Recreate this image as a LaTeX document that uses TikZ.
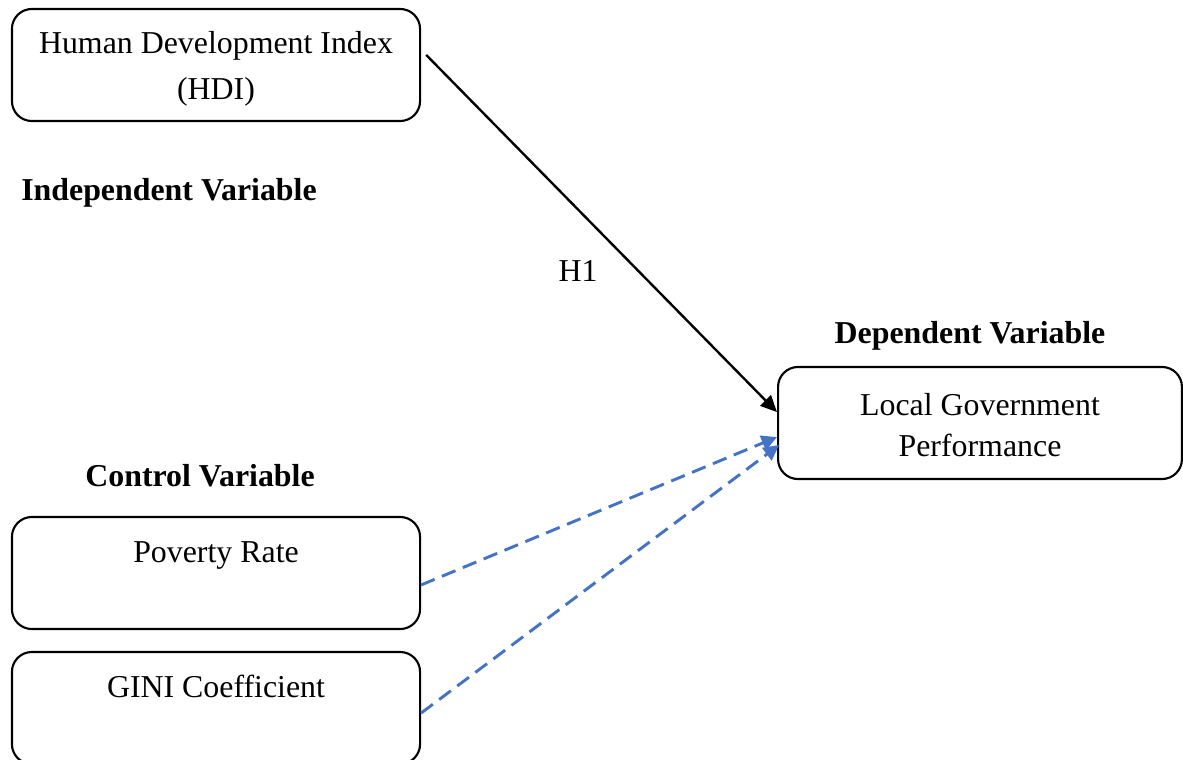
\documentclass[tikz,border=0pt]{standalone}
\usepackage{fontspec}
\setmainfont{Liberation Serif}
\usetikzlibrary{arrows.meta}
\definecolor{wordblue}{HTML}{4472C4}

\tikzstyle{varbox} = [draw, rounded corners=7.5pt, line width=0.8pt, inner sep=0pt, minimum width=153.7pt, minimum height=42.2pt]
\tikzstyle{boxtext} = [align=center, inner sep=0pt, font=\fontsize{12}{17.3}\selectfont]
\tikzstyle{heading} = [font=\fontsize{12}{14}\selectfont\bfseries]
\tikzstyle{arrow} = [line width=0.9pt, -{Triangle[length=6.2pt,width=5.6pt]}]
\tikzstyle{control} = [wordblue, line width=1.1pt, dash pattern=on 5.5pt off 3pt, -{Triangle[length=5.8pt,width=5.8pt]}]

\begin{document}
\begin{tikzpicture}[x=0.3766pt, y=-0.3766pt]
\useasboundingbox (0,0) rectangle (1183,760);

\node (hdi) [varbox] at (216,65) {};
\node (lgp) [varbox, minimum width=152.1pt] at (980,423) {};
\node (pov) [varbox] at (216,573) {};
\node (gini) [varbox] at (216,708) {};

\node (hditext) [boxtext, yshift=-1.5pt] at (hdi) {Human Development Index\\(HDI)};
\node (lgptext) [boxtext, yshift=-0.75pt, font=\fontsize{12}{15.4}\selectfont] at (lgp) {Local Government\\Performance};
\node (povtext) [boxtext, yshift=-0.75pt] at (pov) {Poverty Rate\\\mbox{}};
\node (ginitext) [boxtext, yshift=-0.4pt] at (gini) {GINI Coefficient\\\mbox{}};

\node (indep) [heading] at (169,193) {Independent Variable};
\node (dep) [heading] at (970,336) {Dependent Variable};
\node (ctrl) [heading] at (200,476) {Control Variable};
\node (h1) [font=\fontsize{12}{14}\selectfont] at (578,271) {H1};

\draw [arrow] ([xshift=1.9pt,yshift=3.8pt]hdi.east) -- ([yshift=4.1pt]lgp.west);
\draw [control] ([yshift=-4.5pt]pov.east) -- ([yshift=-5.3pt]lgp.west);
\draw [control] ([yshift=-1.9pt]gini.east) -- ([xshift=0.8pt,yshift=-8.3pt]lgp.west);
\end{tikzpicture}
\end{document}
